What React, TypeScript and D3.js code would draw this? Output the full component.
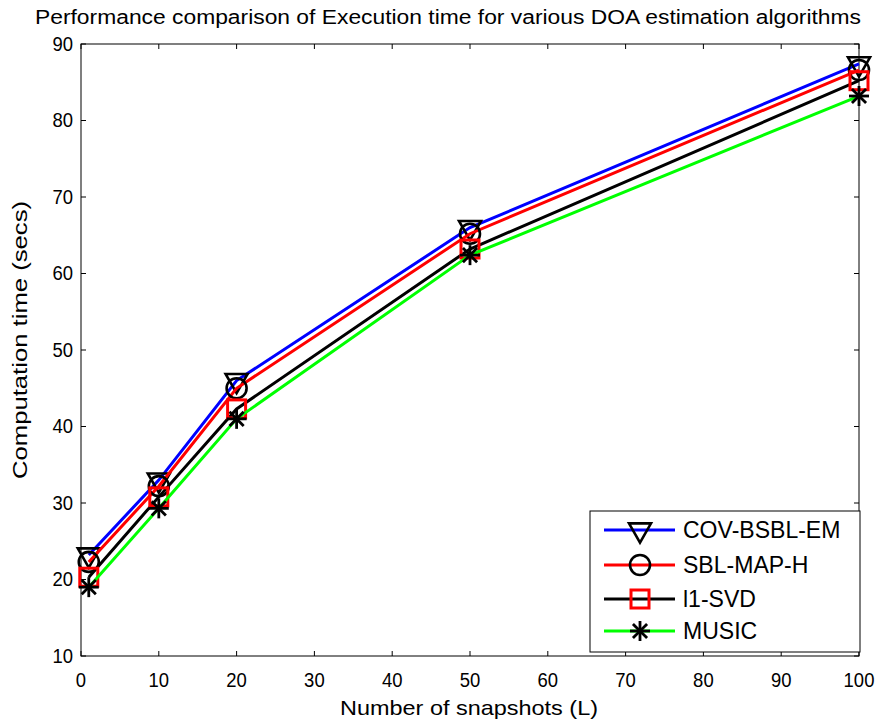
import React from "react";
import * as d3 from "d3";

const snapshots = [1, 10, 20, 50, 100];
const covBsblEm = [23.2, 33.0, 46.0, 66.0, 87.4];
const sblMapH = [22.3, 32.2, 45.0, 65.2, 86.6];
const l1Svd = [20.3, 30.8, 42.3, 63.2, 85.2];
const music = [19.0, 29.3, 41.0, 62.4, 83.2];
const xTicks = [0, 10, 20, 30, 40, 50, 60, 70, 80, 90, 100];
const yTicks = [10, 20, 30, 40, 50, 60, 70, 80, 90];

const series = [
  { name: "COV-BSBL-EM", values: covBsblEm, color: "#0000ff", marker: "tri" },
  { name: "SBL-MAP-H", values: sblMapH, color: "#ff0000", marker: "circ" },
  { name: "l1-SVD", values: l1Svd, color: "#000000", marker: "sq" },
  { name: "MUSIC", values: music, color: "#00ff00", marker: "star" },
];
const legendLabels = ["COV-BSBL-EM", "SBL-MAP-H", "l1-SVD", "MUSIC"];

const L = 81, R = 859, T = 44, B = 656;
const font = "Arial, 'Liberation Sans', sans-serif";

function Marker({ kind, x, y }: { kind: string; x: number; y: number }) {
  if (kind === "tri") {
    const s = 11;
    return (
      <path d={`M${x - s},${y - s * 0.6} L${x + s},${y - s * 0.6} L${x},${y + s * 1.15} Z`}
        fill="none" stroke="#000" strokeWidth={2.6} />
    );
  }
  if (kind === "circ") {
    return <circle cx={x} cy={y} r={10} fill="none" stroke="#000" strokeWidth={2.6} />;
  }
  if (kind === "sq") {
    return <rect x={x - 9} y={y - 9} width={18} height={18} fill="none" stroke="#ff0000" strokeWidth={3} />;
  }
  const r = 10;
  const lines = [0, 45, 90, 135].map((a) => {
    const rad = (a * Math.PI) / 180;
    return (
      <line key={a} x1={x - r * Math.cos(rad)} y1={y - r * Math.sin(rad)}
        x2={x + r * Math.cos(rad)} y2={y + r * Math.sin(rad)} stroke="#000" strokeWidth={2.8} />
    );
  });
  return <g>{lines}</g>;
}

export default function App() {
  const xs = d3.scaleLinear().domain([0, 100]).range([L, R]);
  const ys = d3.scaleLinear().domain([10, 90]).range([B, T]);
  const line = d3.line<number>().x((_, i) => xs(snapshots[i])).y((d) => ys(d));

  const legX = 590, legY = 511, legW = 270, legH = 141;
  const rowY = [530, 565, 599, 631];

  return (
    <svg width={890} height={723} style={{ position: "absolute", left: 0, top: 0, background: "#fff" }}>
      <rect x={0} y={0} width={890} height={723} fill="#fff" />
      {xTicks.map((t) => (
        <g key={"x" + t}>
          <line x1={xs(t)} x2={xs(t)} y1={B} y2={B - 5} stroke="#000" />
          <line x1={xs(t)} x2={xs(t)} y1={T} y2={T + 5} stroke="#000" />
          <text x={xs(t)} y={687} fontSize={21} fontFamily={font} textAnchor="middle"
            transform={`translate(${xs(t)},0) scale(0.88,1) translate(${-xs(t)},0)`}>{t}</text>
        </g>
      ))}
      {yTicks.map((t) => (
        <g key={"y" + t}>
          <line x1={L} x2={L + 5} y1={ys(t)} y2={ys(t)} stroke="#000" />
          <line x1={R} x2={R - 5} y1={ys(t)} y2={ys(t)} stroke="#000" />
          <text x={73} y={ys(t) + 7} fontSize={21} fontFamily={font} textAnchor="end"
            transform={`translate(73,0) scale(0.88,1) translate(-73,0)`}>{t}</text>
        </g>
      ))}
      <rect x={L} y={T} width={R - L} height={B - T} fill="none" stroke="#000" strokeWidth={1} />

      {series.map((s) => (
        <g key={s.name}>
          <path d={line(s.values) || ""} fill="none" stroke={s.color} strokeWidth={3} />
          {s.values.map((v, i) => (
            <Marker key={i} kind={s.marker} x={xs(snapshots[i])} y={ys(v)} />
          ))}
        </g>
      ))}

      <rect x={legX} y={legY} width={legW} height={legH} fill="#fff" stroke="#000" strokeWidth={1} />
      {series.map((s, i) => (
        <g key={"leg" + i}>
          <line x1={604} x2={675} y1={rowY[i]} y2={rowY[i]} stroke={s.color} strokeWidth={3} />
          <Marker kind={s.marker} x={640} y={rowY[i]} />
          <text x={683} y={rowY[i] + 8} fontSize={24} fontFamily={font}
            transform={`translate(683,0) scale(0.96,1) translate(-683,0)`}>{legendLabels[i]}</text>
        </g>
      ))}

      <text x={448} y={24} fontSize={20} fontFamily={font} textAnchor="middle" textLength={826} lengthAdjust="spacingAndGlyphs">
        Performance comparison of Execution time for various DOA estimation algorithms
      </text>
      <text x={469} y={715} fontSize={21} fontFamily={font} textAnchor="middle" textLength={258} lengthAdjust="spacingAndGlyphs">
        Number of snapshots (L)
      </text>
      <text transform="translate(27,340) rotate(-90)" fontSize={21} fontFamily={font} textAnchor="middle"
        textLength={278} lengthAdjust="spacingAndGlyphs">
        Computation time (secs)
      </text>
    </svg>
  );
}
